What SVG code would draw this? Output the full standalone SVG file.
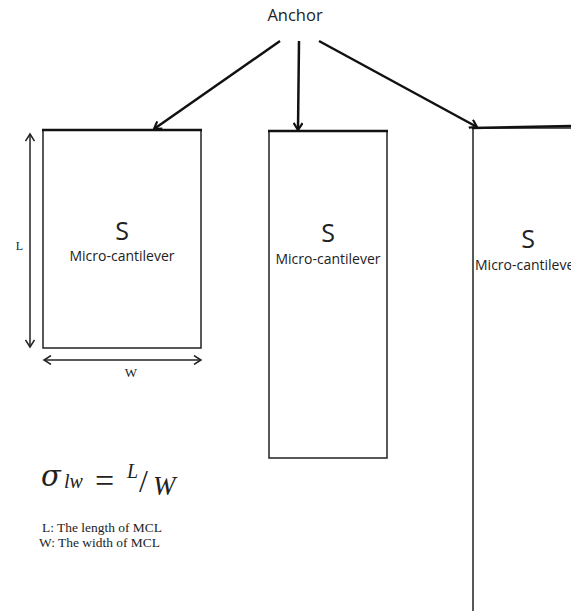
<svg xmlns="http://www.w3.org/2000/svg" width="571" height="611" viewBox="0 0 571 611">
<style>
.box{fill:#fff;stroke:#222;stroke-width:1.5}
.top{stroke:#111;stroke-width:2.5}
.conn{stroke:#111;stroke-width:2.5;fill:none}
.dim{stroke:#222;stroke-width:1.5;fill:none}
.sans{font-family:"Open Sans","Noto Sans","Liberation Sans",sans-serif;fill:#222}
.serif{font-family:"Liberation Serif","DejaVu Serif",serif;fill:#222}
.greek{font-family:"DejaVu Serif","Liberation Serif",serif;fill:#222;font-style:italic}
.it{font-style:italic}
</style>
<defs>
<marker id="ah" markerWidth="10" markerHeight="10" refX="8" refY="5" orient="auto" markerUnits="userSpaceOnUse">
<path d="M1,0.5 L8,5 L1,9.5" fill="none" stroke="#111" stroke-width="2.2"/>
</marker>
<marker id="dh" markerWidth="10" markerHeight="10" refX="8" refY="5" orient="auto-start-reverse" markerUnits="userSpaceOnUse">
<path d="M1,0.5 L8,5 L1,9.5" fill="none" stroke="#222" stroke-width="1.5"/>
</marker>
</defs>
<rect width="571" height="611" fill="#fff"/>
<g id="anchor"><text class="sans" x="295" y="21" font-size="16.5" text-anchor="middle">Anchor</text></g>
<g id="mcl1">
<rect class="box" x="43" y="130" width="158" height="218"/>
<line class="top" x1="42" y1="130" x2="202" y2="130"/>
<text class="sans" x="122" y="240" font-size="25" text-anchor="middle">S</text>
<text class="sans" x="122" y="261" font-size="14" text-anchor="middle">Micro-cantilever</text>
</g>
<g id="mcl2">
<rect class="box" x="269" y="131" width="118" height="327"/>
<line class="top" x1="268" y1="131" x2="388" y2="131"/>
<text class="sans" x="328" y="242" font-size="25" text-anchor="middle">S</text>
<text class="sans" x="328" y="264" font-size="14" text-anchor="middle">Micro-cantilever</text>
</g>
<g id="mcl3">
<rect class="box" x="473" y="128" width="120" height="500"/>
<line class="top" x1="472" y1="128" x2="571" y2="126"/>
<text class="sans" x="528" y="248" font-size="25" text-anchor="middle">S</text>
<text class="sans" x="475" y="270" font-size="14">Micro-cantilever</text>
</g>
<g id="dims">
<line class="dim" x1="30" y1="134" x2="30" y2="347" marker-start="url(#dh)" marker-end="url(#dh)"/>
<text class="serif" x="19.5" y="250" font-size="12" text-anchor="middle">L</text>
<line class="dim" x1="44" y1="360" x2="201" y2="360" marker-start="url(#dh)" marker-end="url(#dh)"/>
<text class="serif" x="131" y="377" font-size="13" text-anchor="middle">W</text>
</g>
<g id="connectors">
<line class="conn" x1="280" y1="41" x2="154" y2="129" marker-end="url(#ah)"/>
<line class="conn" x1="299" y1="41" x2="298" y2="130" marker-end="url(#ah)"/>
<line class="conn" x1="319" y1="41" x2="477" y2="127" marker-end="url(#ah)"/>
</g>
<g id="formula">
<text class="greek" x="41" y="486" font-size="29">σ</text>
<text class="serif it" x="64" y="488" font-size="20">lw</text>
<text class="serif" x="95" y="492" font-size="34">=</text>
<text class="serif it" x="127" y="478" font-size="20">L</text>
<text class="serif" x="139" y="492" font-size="32">/</text>
<text class="serif it" x="153" y="495" font-size="27">W</text>
</g>
<g id="legend">
<text class="serif" x="42" y="532" font-size="12" textLength="120" lengthAdjust="spacingAndGlyphs">L: The length of MCL</text>
<text class="serif" x="39" y="547" font-size="12" textLength="121" lengthAdjust="spacingAndGlyphs">W: The width of MCL</text>
</g>
</svg>
